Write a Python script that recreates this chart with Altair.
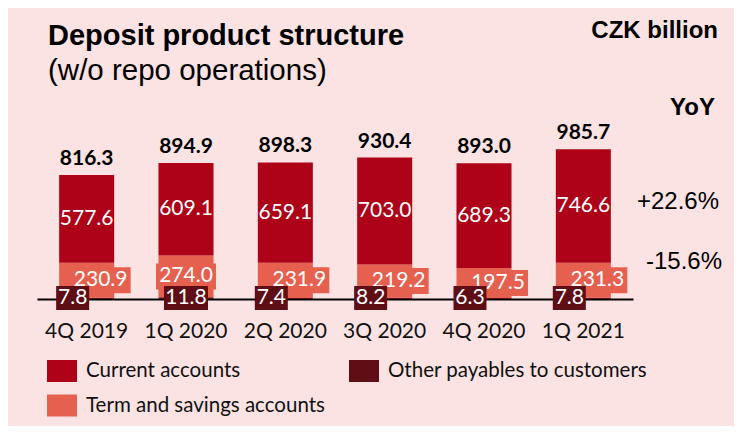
import altair as alt
import pandas as pd

quarters = ["4Q 2019", "1Q 2020", "2Q 2020", "3Q 2020", "4Q 2020", "1Q 2021"]
current = [577.6, 609.1, 659.1, 703.0, 689.3, 746.6]
term = [230.9, 274.0, 231.9, 219.2, 197.5, 231.3]
other = [7.8, 11.8, 7.4, 8.2, 6.3, 7.8]
totals = [816.3, 894.9, 898.3, 930.4, 893.0, 985.7]
yoy = ["+22.6%", "-15.6%"]

series = ["Current accounts", "Term and savings accounts", "Other payables to customers"]
colors = ["#AE0218", "#E66050", "#5E0E14"]

rows = []
for i, q in enumerate(quarters):
    o, t, c = other[i], term[i], current[i]
    rows.append(dict(q=q, series=series[2], y0=0.0, y1=o, v=o))
    rows.append(dict(q=q, series=series[1], y0=o, y1=o + t, v=t))
    rows.append(dict(q=q, series=series[0], y0=o + t, y1=o + t + c, v=c))
seg = pd.DataFrame(rows)
seg["label"] = seg["v"].map(lambda v: f"{v:.1f}")
seg["mid"] = (seg["y0"] + seg["y1"]) / 2
tot = pd.DataFrame({"q": quarters, "total": totals, "label": [f"{v:.1f}" for v in totals]})

PLOT_H = 152
U = 1000 / PLOT_H  # data units per pixel
HALF_BAND = 27.5

yscale = alt.Scale(domain=[0, 1000], nice=False, zero=True)
x = alt.X("q:N", sort=quarters,
          scale=alt.Scale(paddingInner=0.446, paddingOuter=0.223),
          axis=alt.Axis(title=None, labelAngle=0, ticks=False, domainColor="black",
                        domainWidth=2, labelFont="Lato", labelFontSize=21,
                        labelColor="#111", labelPadding=21))

base = alt.Chart(seg)

bars = base.mark_bar().encode(
    x=x,
    y=alt.Y("y0:Q", scale=yscale, axis=None),
    y2="y1:Q",
    color=alt.Color("series:N", scale=alt.Scale(domain=series, range=colors),
                    legend=alt.Legend(title=None, orient="none", legendX=10, legendY=209,
                                      columns=2, symbolType="M-1,-0.733H1V0.733H-1Z",
                                      symbolSize=900, symbolStrokeWidth=0, symbolOpacity=1,
                                      labelFont="Lato", labelFontSize=20.5, labelColor="#111",
                                      labelOffset=9, labelLimit=400, columnPadding=24,
                                      rowPadding=8.5, gridAlign="each")),
)

shift_expr = "(datum.q === '1Q 2020' ? 0 : 14)"

term_boxes = base.transform_filter(alt.datum.series == series[1]).transform_calculate(
    b0=f"datum.mid - 13*{U}", b1=f"datum.mid + 13*{U}", shift=f"{shift_expr} + {HALF_BAND}"
).mark_bar(color=colors[1]).encode(
    x=x, xOffset=alt.XOffset("shift:Q", scale=None),
    y=alt.Y("b0:Q", scale=yscale, axis=None), y2="b1:Q", size=alt.value(60))

term_text = base.transform_filter(alt.datum.series == series[1]).transform_calculate(
    shift=f"{shift_expr} + {HALF_BAND}"
).mark_text(font="Lato", fontSize=21, color="white", baseline="middle").encode(
    x=x, xOffset=alt.XOffset("shift:Q", scale=None),
    y=alt.Y("mid:Q", scale=yscale, axis=None), text="label:N")

dark_boxes = base.transform_filter(alt.datum.series == series[2]).transform_calculate(
    b0=f"-11*{U}", b1=f"13*{U}", shift=f"{HALF_BAND} - {shift_expr}",
    w="length(datum.label) * 11"
).mark_bar(color=colors[2]).encode(
    x=x, xOffset=alt.XOffset("shift:Q", scale=None),
    y=alt.Y("b0:Q", scale=yscale, axis=None), y2="b1:Q", size=alt.Size("w:Q", scale=None))

dark_text = base.transform_filter(alt.datum.series == series[2]).transform_calculate(
    c=f"1*{U}", shift=f"{HALF_BAND} - {shift_expr}"
).mark_text(font="Lato", fontSize=21, color="white", baseline="middle").encode(
    x=x, xOffset=alt.XOffset("shift:Q", scale=None),
    y=alt.Y("c:Q", scale=yscale, axis=None), text="label:N")

cur_text = base.transform_filter(alt.datum.series == series[0]).mark_text(
    font="Lato", fontSize=21, color="white", baseline="middle").encode(
    x=x, y=alt.Y("mid:Q", scale=yscale, axis=None), text="label:N")

tot_text = alt.Chart(tot).mark_text(font="Lato", fontSize=21, fontWeight="bold",
                                    color="black", baseline="alphabetic", dy=-10).encode(
    x=x, y=alt.Y("total:Q", scale=yscale, axis=None), text="label:N")

def note(txt, px, py, size, weight="normal", align="right", baseline="middle"):
    return alt.Chart(pd.DataFrame({"t": [txt]})).mark_text(
        font="Liberation Sans", fontSize=size, fontWeight=weight, color="black",
        align=align, baseline=baseline).encode(
        x=alt.value(px), y=alt.value(py), text="t:N")

notes = [
    note("Deposit product structure", 11, -102, 29, "bold", "left", "alphabetic"),
    note("(w/o repo operations)", 11, -67, 29.5, "normal", "left", "alphabetic"),
    note("CZK billion", 681, -116, 24, "bold"),
    note("YoY", 678, -39, 24, "bold"),
    note(yoy[0], 682, 55, 24),
    note(yoy[1], 685, 115, 24),
]

chart = alt.layer(bars, term_boxes, term_text, dark_boxes, dark_text, cur_text, tot_text,
                  *notes).properties(
    width=596, height=PLOT_H,
    padding={"left": 29, "top": 139, "right": 101, "bottom": 127},
    autosize=alt.AutoSizeParams(type="none"),
    background="#FBE3E3",
).configure_view(stroke=None)

chart.save("out.html", embed_options={"renderer": "svg", "actions": False})
